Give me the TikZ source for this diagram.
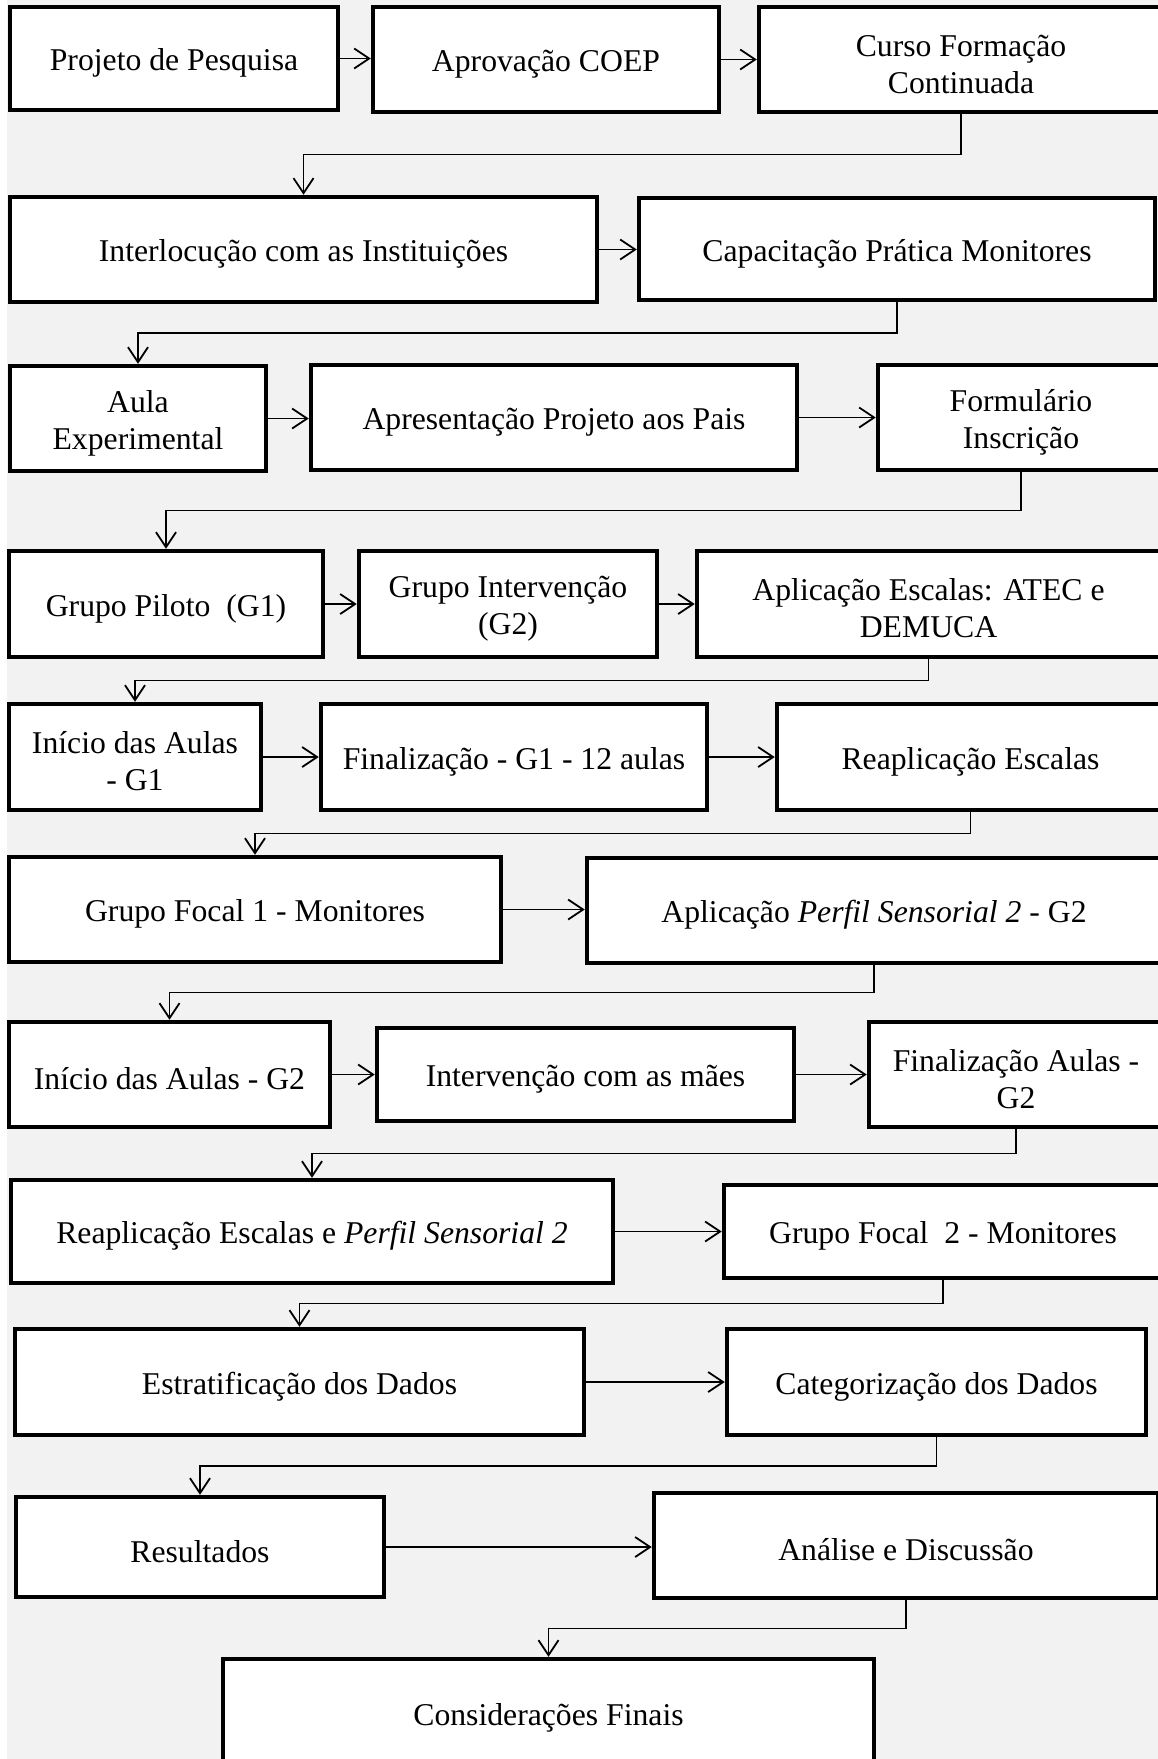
\documentclass[tikz,border=0pt]{standalone}
\usepackage{fontspec}
\setmainfont{Liberation Serif}
\usetikzlibrary{arrows.meta,calc}
\definecolor{bggray}{HTML}{F2F2F2}
\tikzset{
  box/.style={draw=black, line width=4.5pt, fill=white, inner sep=0pt},
  boxtext/.style={align=center, inner sep=0pt,
    font=\fontsize{31.7pt}{37pt}\selectfont},
  conn/.style={line width=1.8pt, -{Straight Barb[length=15pt,width=20pt,line width=1.8pt]}},
}
% box given by its corners (x1,y1) and (x2,y2), y growing downwards;
% its text sits slightly below the geometric centre
\newcommand\flowbox[6]{%
  \node[box, minimum width={(#4-#2)*1pt}, minimum height={(#5-#3)*1pt}]
    (#1) at ({(#2+#4)/2},{(#3+#5)/2}) {};
  \node[boxtext] (#1-t) at ([yshift=-4.5pt]#1.center) {#6};}
% link from one row to the next: down, across, down
\newcommand\rowlink[2]{%
  \coordinate (m-#1) at ($(#1.south)!.5!(#2.north)$);
  \draw[conn] (#1.south) |- (m-#1) -| (#2.north);}
% link within a row
\newcommand\sidelink[2]{\draw[conn] (#1.east) -- (#1.east -| #2.west);}
\begin{document}
\begin{tikzpicture}[x=1pt,y=-1pt]
\useasboundingbox (0,0) rectangle (1158,1759);
\clip (0,0) rectangle (1158,1759);
\fill[white] (0,0) rectangle (1158,1759);
\fill[bggray] (7,0) rectangle (1158,1759);

\flowbox{proj}{10}{7}{338}{110}{Projeto de Pesquisa}
\flowbox{aprov}{373}{7}{719}{112}{Aprovação COEP}
\flowbox{curso}{759}{7}{1163}{112}{Curso Formação\\Continuada}

\flowbox{inter}{10}{197}{597}{302}{Interlocução com as Instituições}
\flowbox{capac}{639}{198}{1155}{300}{Capacitação Prática Monitores}

\flowbox{aula}{10}{366}{266}{471}{Aula\\Experimental}
\flowbox{apres}{311}{365}{797}{470}{Apresentação Projeto aos Pais}
\flowbox{form}{878}{365}{1164}{470}{Formulário\\Inscrição}

\flowbox{piloto}{9}{551}{323}{657}{Grupo Piloto~ (G1)}
\flowbox{interv}{359}{551}{657}{657}{Grupo Intervenção\\(G2)}
\flowbox{aplic}{697}{551}{1160}{657}{Aplicação Escalas: ATEC e\\DEMUCA}

\flowbox{inia}{9}{704}{261}{810}{Início das Aulas\\- G1}
\flowbox{fina}{321}{704}{707}{810}{Finalização - G1 - 12 aulas}
\flowbox{reapl}{777}{704}{1164}{810}{Reaplicação Escalas}

\flowbox{gfa}{9}{857}{501}{962}{Grupo Focal 1 - Monitores}
\flowbox{perfil}{587}{858}{1161}{963}{Aplicação \textit{Perfil Sensorial 2} - G2}

\flowbox{inib}{9}{1022}{330}{1127}{Início das Aulas - G2}
\flowbox{maes}{377}{1028}{794}{1121}{Intervenção com as mães}
\flowbox{finb}{869}{1022}{1163}{1127}{Finalização Aulas -\\G2}

\flowbox{reaplb}{11}{1180}{613}{1283}{Reaplicação Escalas e \textit{Perfil Sensorial 2}}
\flowbox{gfb}{724}{1185}{1162}{1278}{Grupo Focal~ 2 - Monitores}

\flowbox{estr}{15}{1329}{584}{1435}{Estratificação dos Dados}
\flowbox{categ}{727}{1329}{1146}{1435}{Categorização dos Dados}

\flowbox{res}{16}{1497}{384}{1597}{Resultados}
\flowbox{anal}{654}{1493}{1158}{1598}{Análise e Discussão}

\flowbox{cons}{223}{1659}{874}{1768}{Considerações Finais}

\sidelink{proj}{aprov}
\sidelink{aprov}{curso}
\rowlink{curso}{inter}
\sidelink{inter}{capac}
\rowlink{capac}{aula}
\sidelink{aula}{apres}
\sidelink{apres}{form}
\rowlink{form}{piloto}
\sidelink{piloto}{interv}
\sidelink{interv}{aplic}
\rowlink{aplic}{inia}
\sidelink{inia}{fina}
\sidelink{fina}{reapl}
\rowlink{reapl}{gfa}
\sidelink{gfa}{perfil}
\rowlink{perfil}{inib}
\sidelink{inib}{maes}
\sidelink{maes}{finb}
\rowlink{finb}{reaplb}
\sidelink{reaplb}{gfb}
\rowlink{gfb}{estr}
\sidelink{estr}{categ}
\rowlink{categ}{res}
\sidelink{res}{anal}
\rowlink{anal}{cons}
\end{tikzpicture}
\end{document}
